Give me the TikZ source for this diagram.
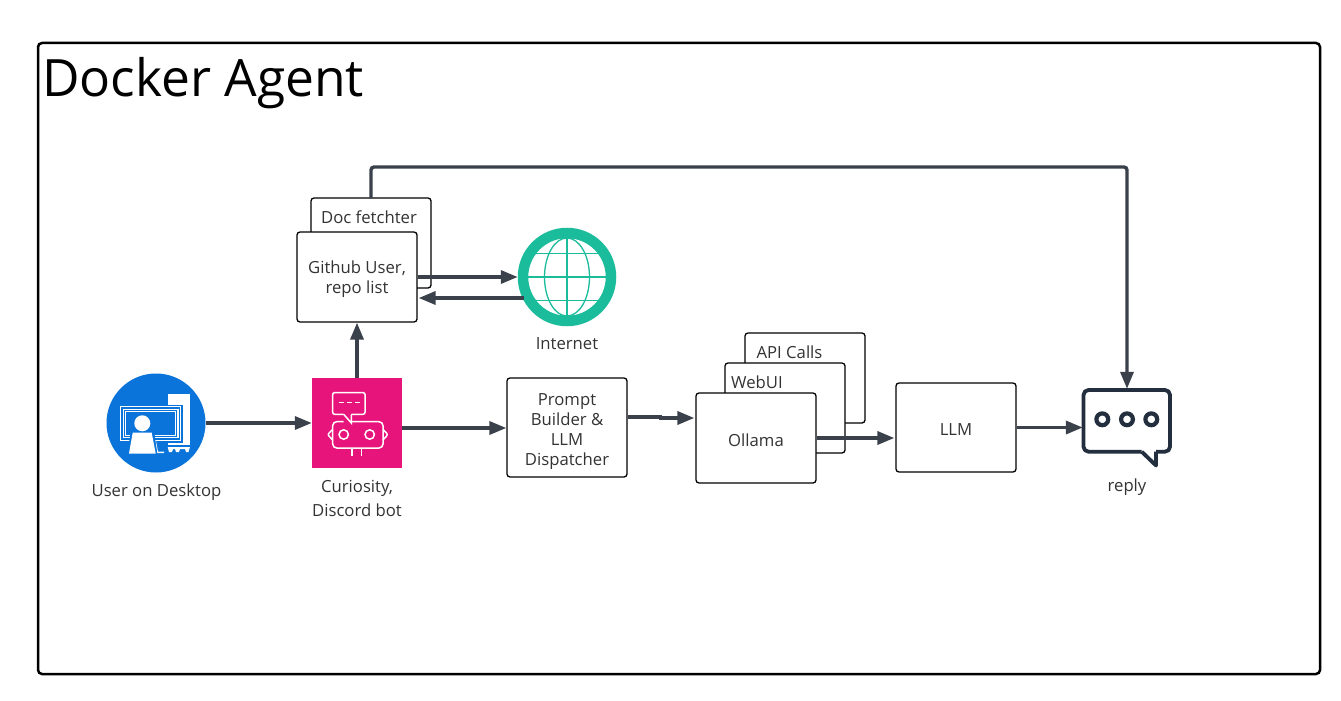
\documentclass[tikz,border=0pt]{standalone}
\usepackage{fontspec}
\setmainfont{Open Sans}
\usetikzlibrary{arrows.meta,calc}
\definecolor{linecol}{HTML}{3A414A}
\definecolor{txtcol}{HTML}{333333}
\definecolor{teal1}{HTML}{1ABC9C}
\definecolor{blue1}{HTML}{0A74DA}
\definecolor{pink1}{HTML}{E7157B}
\definecolor{navy1}{HTML}{232F3E}
\tikzset{
  boxnode/.style={draw=black,line width=1.3pt,rounded corners=3pt,fill=white,minimum width=120pt,inner sep=0pt},
  lab/.style={text=txtcol,align=center,inner sep=0pt,font=\fontsize{16.7}{20}\selectfont},
  conn/.style={draw=linecol,line width=3.4pt,-{Triangle[length=17pt,width=13pt]}},
  iconw/.style={draw=white,line width=1.5pt},
}
\begin{document}
\begin{tikzpicture}[x=1pt,y=-1pt]
\useasboundingbox (0,0) rectangle (1341,701);
\fill[white] (0,0) rectangle (1341,701);
\node[draw=black,line width=2.5pt,rounded corners=4pt,minimum width=1282pt,minimum height=631pt,inner sep=0pt] (frame) at (679,358.5) {};
\node[anchor=base west,inner sep=0pt,font=\fontsize{51.5}{54}\selectfont,text=black] (title) at (42,96) {Docker Agent};

% stacked boxes
\node[boxnode,minimum height=90pt] (doc) at (371,243) {};
\node[lab,anchor=base] (doclab) at (369,223) {Doc fetchter};
\node[boxnode,minimum height=90pt] (github) at (357,277) {};
\node[lab] (githublab) at (357,279.5) {Github User,\\repo list};

\node[boxnode,minimum height=90pt] (api) at (805,378) {};
\node[lab,anchor=base] (apilab) at (789.5,358) {API Calls};
\node[boxnode,minimum height=90pt] (webui) at (785,408) {};
\node[lab,anchor=base] (webuilab) at (757,388) {WebUI};
\node[boxnode,minimum height=90pt] (ollama) at (756,438) {};
\node[lab] (ollamalab) at (756,440) {Ollama};

\node[boxnode,minimum height=99pt] (prompt) at (567,427.5) {};
\node[lab] (promptlab) at (567,431.5) {Prompt\\Builder \&\\LLM\\Dispatcher};
\node[boxnode,minimum height=89pt] (llm) at (956,427.5) {};
\node[lab] (llmlab) at (956,429.5) {LLM};

% user icon
\node[circle,fill=blue1,minimum size=99pt,inner sep=0pt] (user) at (156,423) {};
\fill[white] (167.7,394.3) rectangle (190,445);
\fill[white] (167.7,447) -- (190,447) -- (188.5,452) -- (186,452) -- (185,449) -- (180,449) -- (179,452) -- (176,452) -- (175,449) -- (173,449) -- (172,452) -- (169,452) -- cycle;
\fill[blue1] (166,405) rectangle (182.7,442.5);
\fill[blue1] (166,445) rectangle (190,447);
\draw[iconw,line width=1.3pt] (120.5,406.8) rectangle (180.5,440.5);
\draw[iconw,line width=1.3pt] (123.5,409.5) rectangle (178,437.5);
\draw[iconw,line width=1.1pt] (125.5,411.7) rectangle (175.5,435.2);
\fill[white] (154,441) -- (156,441) -- (158,451.5) -- (164,451.5) -- (164,453) -- (156.5,453) -- cycle;
\fill[blue1] (131,430.5) -- (154,430.5) -- (157.5,455) -- (127,455) -- cycle;
\fill[white] (142.3,423.3) circle (8);
\fill[white] (132.7,432.7) -- (151.7,432.7) -- (155.7,453.5) -- (129,453.5) -- cycle;
\node[lab] (userlab) at (156.5,492) {User on Desktop};

% bot icon
\node[rectangle,fill=pink1,minimum size=90pt,inner sep=0pt] (bot) at (357,423) {};
\draw[iconw,rounded corners=2pt] (343.7,414.3) -- (332.7,414.3) -- (332.7,392.6) -- (365,392.6) -- (365,414.3) -- (351.3,414.3);
\draw[iconw] (343.7,414.3) -- (351.3,423) -- (351.3,414.3);
\draw[iconw] (338.7,402.4) -- (343.7,402.4) (347,402.4) -- (352,402.4) (355.3,402.4) -- (360.3,402.4);
\draw[iconw,rounded corners=4pt] (343.7,421.7) -- (332.7,421.7) -- (332.7,448) -- (383,448) -- (383,421.7) -- (351.3,421.7);
\draw[iconw,rounded corners=2pt] (332.7,429.5) -- (327.5,434.5) -- (332.7,440);
\draw[iconw,rounded corners=2pt] (383,429.5) -- (388,434.5) -- (383,440);
\draw[iconw] (343.7,434.5) circle (4.7);
\draw[iconw] (369.7,434.5) circle (4.7);
\draw[iconw] (352,448) -- (352,456) (361.3,448) -- (361.3,456);
\node[lab,font=\fontsize{16.7}{23.5}\selectfont] (botlab) at (357,498.5) {Curiosity,\\Discord bot};

% globe
\node[circle,draw=teal1,line width=10.5pt,fill=white,minimum size=88pt,inner sep=0pt] (globe) at (567,277) {};
\draw[teal1,line width=1.3pt] (567,277) ellipse (22.5 and 39);
\draw[teal1,line width=1.3pt] (567,238) -- (567,316);
\draw[teal1,line width=1.3pt] (531.5,253.5) -- (602.5,253.5) (528,277) -- (606,277) (531.5,300.5) -- (602.5,300.5);
\node[lab] (netlab) at (567,343.5) {Internet};

% reply icon
\node[inner sep=0pt,minimum width=88pt,minimum height=78pt] (reply) at (1127,428) {};
\draw[navy1,line width=3.8pt,line join=round,rounded corners=5pt] (1141.7,451.7) -- (1083.5,451.7) -- (1083.5,390) -- (1170,390) -- (1170,451.7) -- (1156,451.7);
\draw[navy1,line width=3.8pt,line join=round] (1141.7,451.7) -- (1156,465.5) -- (1156,451.7);
\foreach \cx in {1102.3,1127,1151.3} \draw[navy1,line width=4.2pt] (\cx,419.3) circle (5.9);
\node[lab] (replylab) at (1127,487) {reply};

% connectors
\coordinate (docout) at (371,198);
\coordinate (botout) at ($(bot.east)+(0,5)$);
\draw[conn] (user.east) -- (bot.west);
\draw[conn] (bot.north) -- (github.south);
\draw[conn] (botout) -- (botout -| prompt.west);
\draw[conn] (github.east) -- (github.east -| globe.west);
\draw[conn] ($(globe.west)+(6,21)$) -- ($(github.east)+(1,21)$);
\draw[conn] ($(prompt.east)+(0,-10.5)$) -- ++(33,0) -- ++(0,1) -- ($(ollama.west)+(-1,-20)$);
\draw[conn] (ollama.east) -- ($(ollama.east -| llm.west)+(-1,0)$);
\draw[conn] (llm.east) -- (llm.east -| reply.west);
\draw[conn,rounded corners=3pt] (docout) -- (371,167) -- (1127,167) -- (reply.north);
\end{tikzpicture}
\end{document}
